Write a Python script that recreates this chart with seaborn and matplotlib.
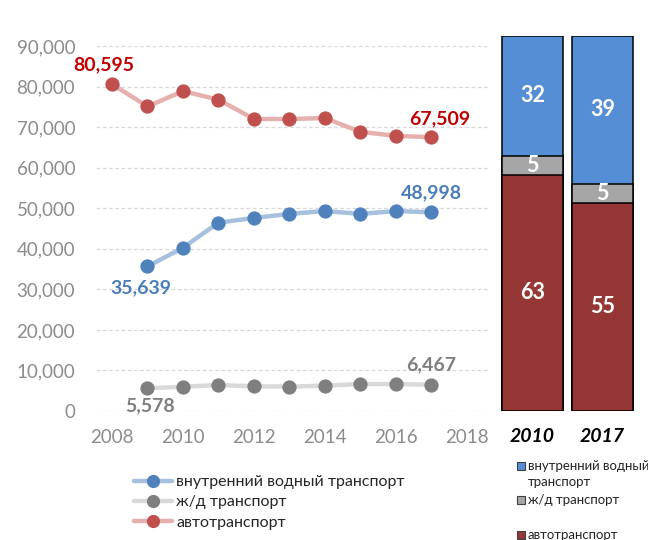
import matplotlib
matplotlib.use("Agg")
import matplotlib.pyplot as plt
from matplotlib.lines import Line2D
from matplotlib.patches import Rectangle
import seaborn as sns
import numpy as np
import pandas as pd

# ---- data ----
years_auto = [2008, 2009, 2010, 2011, 2012, 2013, 2014, 2015, 2016, 2017]
auto = [80595, 75100, 78860, 76770, 72000, 72000, 72230, 68830, 67840, 67509]
years_other = [2009, 2010, 2011, 2012, 2013, 2014, 2015, 2016, 2017]
water = [35639, 40250, 46450, 47600, 48600, 49300, 48600, 49300, 48998]
rail = [5578, 6000, 6400, 6100, 6000, 6250, 6650, 6650, 6467]

bar_years = ["2010", "2017"]
share_auto = [63, 55]
share_rail = [5, 5]
share_water = [32, 39]

names = ["внутренний водный транспорт", "ж/д транспорт", "автотранспорт"]
y_ticks = [0, 10000, 20000, 30000, 40000, 50000, 60000, 70000, 80000, 90000]
x_ticks = [2008, 2010, 2012, 2014, 2016, 2018]

sns.set_theme(style="white")
plt.rcParams['font.family'] = ['Lato', 'Open Sans', 'DejaVu Sans']

W, H = 648, 540
fig = plt.figure(figsize=(6.48, 5.4), dpi=100)

# ---- line chart ----
ax = fig.add_axes([96 / W, 1 - 411 / H, (490 - 96) / W, (411 - 46) / H])
TICK = "#8C8C8C"
series = [
    (years_other, water, "#A7C0DE", "#4F81BD", "#4A7EBB"),
    (years_other, rail, "#D9D9D9", "#7F7F7F", "#7F7F7F"),
    (years_auto, auto, "#E6B0AF", "#C0504D", "#C00000"),
]
for xs, ys, lc, mc, tc in series:
    sns.lineplot(x=xs, y=ys, ax=ax, color=lc, lw=3.2, marker="o", markersize=9.5,
                 markerfacecolor=mc, markeredgecolor=mc, clip_on=False)

ax.set_xlim(2007.55, 2018.65)
ax.set_ylim(0, 90000)
ax.set_yticks(y_ticks)
ax.set_yticklabels([f"{v:,}" for v in y_ticks])
ax.set_xticks(x_ticks)
ax.set_xticklabels([str(v) for v in x_ticks])
ax.tick_params(axis="both", colors=TICK, labelsize=13.5, length=0)
ax.tick_params(axis="y", pad=15)
ax.tick_params(axis="x", pad=13)
for s in ax.spines.values():
    s.set_visible(False)
ax.grid(axis="y", color="#D9D9D9", ls=(0, (3, 2)), lw=0.9)
ax.set_axisbelow(True)

def lab(x, y, txt, dx, dy, col):
    ax.annotate(txt, (x, y), xytext=(dx, dy), textcoords="offset pixels",
                ha="center", va="center", fontsize=14, fontweight="bold", color=col)

lab(years_auto[0], auto[0], f"{auto[0]:,}", -8, 19, "#C00000")
lab(years_auto[-1], auto[-1], f"{auto[-1]:,}", 8, 18, "#C00000")
lab(years_other[-1], water[-1], f"{water[-1]:,}", 0, 20, "#4A7EBB")
lab(years_other[0], water[0], f"{water[0]:,}", -7, -21, "#4A7EBB")
lab(years_other[0], rail[0], f"{rail[0]:,}", 3, -17, "#7F7F7F")
lab(years_other[-1], rail[-1], f"{rail[-1]:,}", 0, 20, "#7F7F7F")

handles = [Line2D([], [], color=c[2], lw=3.2, marker="o", markersize=8.5,
                  markerfacecolor=c[3], markeredgecolor=c[3]) for c in series]
fig.legend(handles, names, loc="upper left", bbox_to_anchor=(126 / W, 1 - 467 / H),
           frameon=False, fontsize=11.5, labelspacing=0.38, handlelength=2.4,
           handletextpad=0.25, borderpad=0, labelcolor="#262626")

# ---- 100% stacked bars ----
bx = fig.add_axes([497.5 / W, 1 - 411 / H, 140 / W, (411 - 36) / H])
tot = np.array(share_auto) + np.array(share_rail) + np.array(share_water)
a = np.array(share_auto) / tot * 100
r = np.array(share_rail) / tot * 100
w = np.array(share_water) / tot * 100
df = pd.DataFrame({"year": bar_years, "top": a + r + w, "mid": a + r, "bot": a})
for col, c in [("top", "#558ED5"), ("mid", "#A6A6A6"), ("bot", "#953735")]:
    sns.barplot(data=df, x="year", y=col, ax=bx, color=c, saturation=1, width=0.87,
                edgecolor="black", linewidth=1.1)
for i in range(2):
    for lo, hgt, v in [(0, a[i], share_auto[i]), (a[i], r[i], share_rail[i]),
                       (a[i] + r[i], w[i], share_water[i])]:
        bx.text(i, lo + hgt / 2, str(v), ha="center", va="center", color="white",
                fontsize=15.5, fontweight="bold")
bx.set_xlim(-0.5, 1.5)
bx.set_ylim(0, 100)
bx.set_yticks([])
bx.set_xlabel("")
bx.set_ylabel("")
bx.tick_params(axis="x", length=0, pad=12, labelsize=14)
for t in bx.get_xticklabels():
    t.set_fontstyle("italic")
    t.set_fontweight("bold")
    t.set_color("black")
for s in bx.spines.values():
    s.set_visible(False)

# bar legend
bar_leg = [("внутренний водный\nтранспорт", "#558ED5", 466),
           ("ж/д транспорт", "#A6A6A6", 500),
           ("автотранспорт", "#953735", 535)]
for txt, c, yy in bar_leg:
    fig.add_artist(Rectangle((517 / W, 1 - (yy + 4) / H), 8 / W, 8 / H, transform=fig.transFigure,
                             facecolor=c, edgecolor="#404040", lw=0.8))
    fig.text(528 / W, 1 - (yy - 6) / H, txt, ha="left", va="top", fontsize=9.5,
             color="#262626", linespacing=1.45)

fig.savefig("out.png", dpi=100)
